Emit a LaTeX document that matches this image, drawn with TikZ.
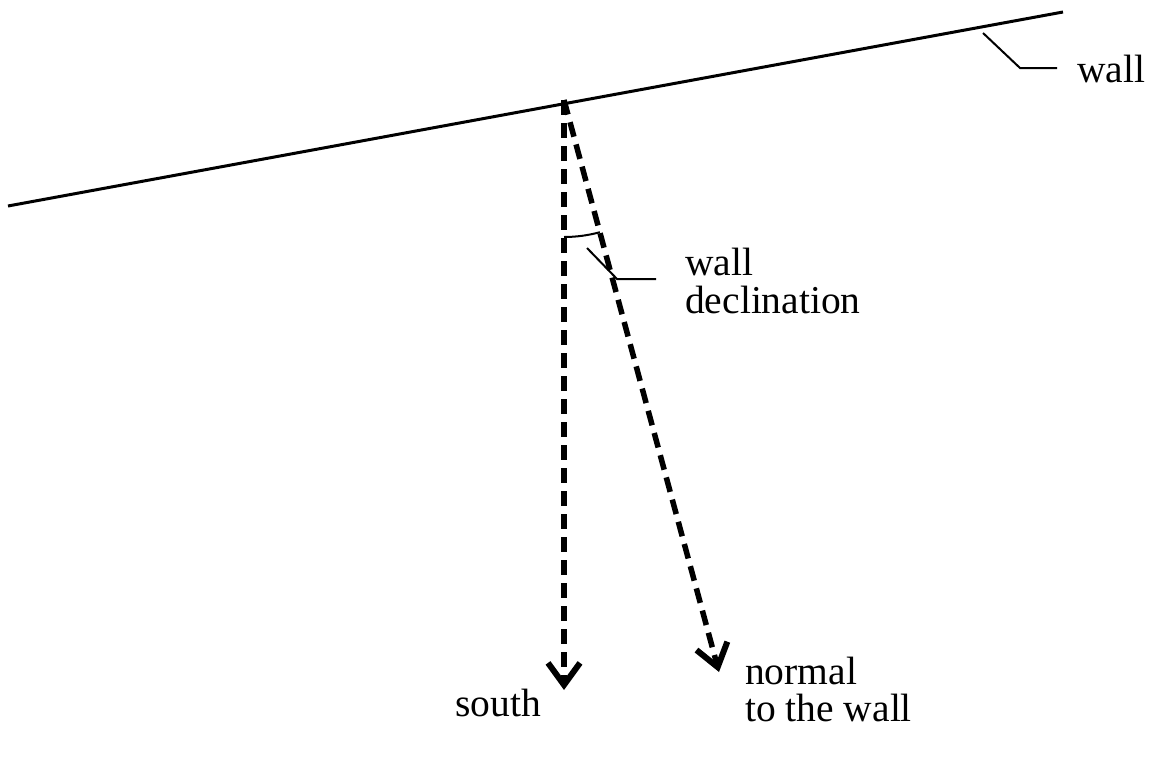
\documentclass[tikz,border=0pt]{standalone}
\usepackage{fontspec}
\setmainfont{Liberation Serif}
\usetikzlibrary{arrows.meta}
\begin{document}
\begin{tikzpicture}[x=1pt,y=-1pt,
  wallline/.style={line width=3pt},
  leader/.style={line width=2pt},
  dasharrow/.style={line width=5.5pt, dash pattern=on 15pt off 8pt,
    -{Straight Barb[length=22pt,width=32pt,line width=6pt]}},
  lbl/.style={anchor=base west, inner sep=0pt, font=\fontsize{39.5}{37}\selectfont}]
\useasboundingbox (0,0) rectangle (1153,763);
% coordinates
\coordinate (W1) at (8,206);
\coordinate (W2) at (1063,12);
\coordinate (O) at (564,100);
\coordinate (S) at (564,690);
\coordinate (N) at (719,672);
% wall
\draw[wallline] (W1) -- (W2);
% arrows
\draw[dasharrow] (O) -- (S);
\draw[dasharrow] (O) -- (N);
% angle arc
\draw[leader] (O) ++(90:137) arc[start angle=90, end angle=74.8, radius=137];
% leaders
\coordinate (A1) at (587,248);
\coordinate (A2) at (617,279);
\coordinate (A3) at (656,279);
\draw[leader] (A1) -- (A2) -- (A3);
\coordinate (B1) at (983,33);
\coordinate (B2) at (1020,68);
\coordinate (B3) at (1057,68);
\draw[leader] (B1) -- (B2) -- (B3);
% labels
\node[lbl] (wl) at (1077,82) {wall};
\node[lbl] (dl1) at (685,275) {wall};
\node[lbl] (dl2) at (685,313) {declination};
\node[lbl] (sl) at (455,716) {south};
\node[lbl] (nl1) at (745,684) {normal};
\node[lbl] (nl2) at (745,721) {to the wall};
\end{tikzpicture}
\end{document}
